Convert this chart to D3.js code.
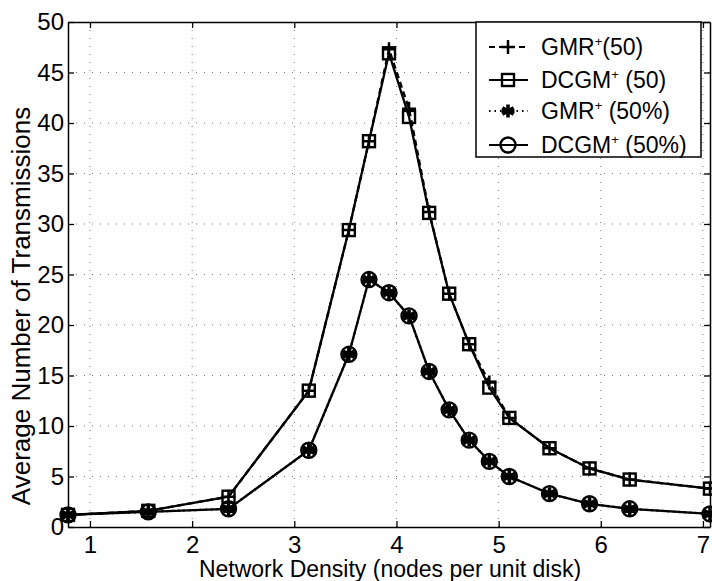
<!DOCTYPE html>
<html>
<head>
<meta charset="utf-8">
<script src="https://cdn.jsdelivr.net/npm/d3@7"></script>
<style>
  body { margin: 0; background: #fff; }
  svg { font-family: "Liberation Sans", Arial, sans-serif; }
</style>
</head>
<body>
<svg id="fig" width="712" height="581"></svg>
<script>
// densities (nodes per unit disk)
const density = [0.785, 1.571, 2.356, 3.142, 3.534, 3.731, 3.927, 4.123, 4.320,
                 4.516, 4.712, 4.909, 5.105, 5.498, 5.890, 6.283, 7.069];

const gmr50     = [1.2, 1.6, 3.0, 13.5, 29.4, 38.2, 47.3, 41.4, 31.2, 23.1, 18.1, 14.3, 10.8, 7.8, 5.8, 4.7, 3.8];
const dcgm50    = [1.2, 1.6, 3.0, 13.5, 29.4, 38.2, 46.9, 40.6, 31.1, 23.1, 18.1, 13.8, 10.8, 7.8, 5.8, 4.7, 3.8];
const gmrPct    = [1.2, 1.5, 1.8, 7.6, 17.1, 24.5, 23.2, 20.9, 15.4, 11.6, 8.6, 6.5, 5.0, 3.3, 2.3, 1.8, 1.3];
const dcgmPct   = [1.2, 1.5, 1.8, 7.6, 17.1, 24.5, 23.2, 20.9, 15.4, 11.6, 8.6, 6.5, 5.0, 3.3, 2.3, 1.8, 1.3];

const xTicks = [1, 2, 3, 4, 5, 6, 7];
const yTicks = [0, 5, 10, 15, 20, 25, 30, 35, 40, 45, 50];

const series = [
  {name: "GMR", sup: "+", tail: "(50)",   vals: gmr50,  dash: "6,4", marker: "plus"},
  {name: "DCGM", sup: "+", tail: " (50)", vals: dcgm50, dash: null,  marker: "square"},
  {name: "GMR", sup: "+", tail: " (50%)", vals: gmrPct, dash: "1.5,4", marker: "star"},
  {name: "DCGM", sup: "+", tail: " (50%)", vals: dcgmPct, dash: null, marker: "circle"}
];

const margin = {top: 22, right: 2, bottom: 54, left: 68};
const width = 712 - margin.left - margin.right;
const height = 581 - margin.top - margin.bottom;

const svg = d3.select("#fig");
const g = svg.append("g").attr("transform", `translate(${margin.left},${margin.top})`);

const x = d3.scaleLinear().domain([0.785, 7.069]).range([0, width]);
const y = d3.scaleLinear().domain([0, 50]).range([height, 0]);

// grid
g.append("g").selectAll("line").data(xTicks).join("line")
  .attr("x1", d => x(d)).attr("x2", d => x(d))
  .attr("y1", 0).attr("y2", height)
  .attr("stroke", "#777").attr("stroke-width", 1).attr("stroke-dasharray", "1,7");
g.append("g").selectAll("line").data(yTicks.slice(1, -1)).join("line")
  .attr("y1", d => y(d)).attr("y2", d => y(d))
  .attr("x1", 0).attr("x2", width)
  .attr("stroke", "#777").attr("stroke-width", 1).attr("stroke-dasharray", "1,7");

// axes (ticks inward, all four sides)
const fs = 24;
const xAxis = g.append("g").attr("transform", `translate(0,${height})`)
  .call(d3.axisBottom(x).tickValues(xTicks).tickFormat(d3.format("d")).tickSize(-6).tickPadding(9).tickSizeOuter(0));
const xTop = g.append("g")
  .call(d3.axisTop(x).tickValues(xTicks).tickSize(-6).tickFormat("").tickSizeOuter(0));
const yAxis = g.append("g")
  .call(d3.axisLeft(y).tickValues(yTicks).tickSize(-6).tickPadding(4).tickSizeOuter(0));
const yRight = g.append("g").attr("transform", `translate(${width},0)`)
  .call(d3.axisRight(y).tickValues(yTicks).tickSize(-6).tickFormat("").tickSizeOuter(0));

[xAxis, xTop, yAxis, yRight].forEach(a => {
  a.selectAll(".domain").attr("stroke", "#000").attr("stroke-width", 1.5);
  a.selectAll(".tick line").attr("stroke", "#000").attr("stroke-width", 1.3);
  a.selectAll("text").attr("font-size", fs).attr("fill", "#000")
    .attr("font-family", "Liberation Sans, Arial, sans-serif");
});

// lines
const line = d3.line().x((d, i) => x(density[i])).y(d => y(d));

function drawMarker(sel, type) {
  if (type === "plus") {
    sel.append("path").attr("d", "M-7,0H7M0,-7V7")
      .attr("stroke", "#000").attr("stroke-width", 2.5).attr("fill", "none");
  } else if (type === "square") {
    sel.append("rect").attr("x", -6).attr("y", -6).attr("width", 12).attr("height", 12)
      .attr("fill", "none").attr("stroke", "#000").attr("stroke-width", 2.4);
  } else if (type === "star") {
    let p = "";
    [0, 60, 120].forEach(a => {
      const r = a * Math.PI / 180, dx = Math.sin(r) * 6.5, dy = Math.cos(r) * 6.5;
      p += `M${-dx},${-dy}L${dx},${dy}`;
    });
    p += "M-6.5,0H6.5";
    sel.append("path").attr("d", p).attr("stroke", "#000").attr("stroke-width", 3.6).attr("fill", "none");
  } else if (type === "circle") {
    sel.append("circle").attr("r", 7.5).attr("fill", "none")
      .attr("stroke", "#000").attr("stroke-width", 2.4);
  }
}

series.forEach(s => {
  g.append("path").datum(s.vals)
    .attr("d", line)
    .attr("fill", "none").attr("stroke", "#000").attr("stroke-width", 2.3)
    .attr("stroke-dasharray", s.dash);
});
series.forEach(s => {
  g.append("g").selectAll("g").data(s.vals).join("g")
    .attr("transform", (d, i) => `translate(${x(density[i])},${y(d)})`)
    .each(function() { drawMarker(d3.select(this), s.marker); });
});

// axis titles
svg.append("text")
  .attr("x", 390).attr("y", 577)
  .attr("text-anchor", "middle").attr("font-size", 23)
  .text("Network Density (nodes per unit disk)");
svg.append("text")
  .attr("transform", "translate(30,306) rotate(-90)")
  .attr("text-anchor", "middle").attr("font-size", 26)
  .text("Average Number of Transmissions");

// legend
const lg = svg.append("g").attr("transform", "translate(476,22)");
lg.append("rect").attr("width", 225).attr("height", 135)
  .attr("fill", "#fff").attr("stroke", "#000").attr("stroke-width", 1.5);
const rowY = [25, 58, 89, 123];
series.forEach((s, i) => {
  const row = lg.append("g").attr("transform", `translate(0,${rowY[i]})`);
  row.append("line").attr("x1", 13).attr("x2", 52).attr("y1", 0).attr("y2", 0)
    .attr("stroke", "#000").attr("stroke-width", 2.2).attr("stroke-dasharray", s.dash);
  drawMarker(row.append("g").attr("transform", "translate(32,0)"), s.marker);
  const t = row.append("text").attr("x", 65).attr("y", 8).attr("font-size", 23);
  t.append("tspan").text(s.name);
  t.append("tspan").attr("dy", -9).attr("font-size", 13).text(s.sup);
  t.append("tspan").attr("dy", 9).text(s.tail);
});
</script>
</body>
</html>
